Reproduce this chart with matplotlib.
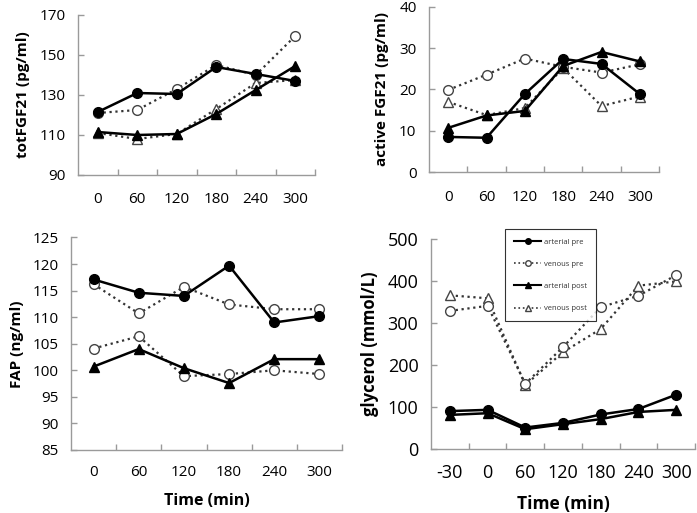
import matplotlib
matplotlib.use("Agg")
import matplotlib.pyplot as plt
from matplotlib.lines import Line2D

plt.rcParams['font.family'] = ['Open Sans', 'DejaVu Sans']

# ---- data ----
cats6 = ["0", "60", "120", "180", "240", "300"]
cats7 = ["-30", "0", "60", "120", "180", "240", "300"]

tot_art_pre = [121.5, 131.0, 130.5, 144.0, 140.5, 137.0]
tot_ven_pre = [121.0, 122.5, 133.0, 145.0, 140.0, 159.5]
tot_art_post = [111.5, 110.0, 110.5, 120.5, 132.5, 144.5]
tot_ven_post = [111.0, 108.0, 110.5, 123.0, 136.0, 137.5]

act_art_pre = [8.5, 8.3, 18.9, 27.4, 26.2, 18.9]
act_ven_pre = [19.9, 23.6, 27.5, 25.5, 24.1, 26.1]
act_art_post = [10.7, 13.7, 14.8, 25.7, 29.1, 26.8]
act_ven_post = [17.0, 13.8, 15.5, 25.2, 16.0, 18.3]

fap_art_pre = [117.1, 114.6, 114.0, 119.7, 109.0, 110.2]
fap_ven_pre = [116.2, 110.7, 115.7, 112.4, 111.5, 111.5]
fap_art_post = [100.7, 104.0, 100.4, 97.6, 102.1, 102.1]
fap_ven_post = [104.1, 106.4, 98.9, 99.3, 100.0, 99.3]

gly_art_pre = [90, 93, 51, 62, 82, 95, 129]
gly_ven_pre = [328, 340, 155, 242, 337, 364, 413]
gly_art_post = [81, 85, 47, 59, 71, 88, 93]
gly_ven_post = [365, 358, 152, 230, 285, 388, 398]

legend_labels = ["arterial pre", "venous pre", "arterial post", "venous post"]

AX_COL = "#9a9a9a"

fig = plt.figure(figsize=(6.97, 5.13), dpi=100)


def style_axes(ax, cats, ylim, yticks, fs=11, xpad=11):
    n = len(cats)
    x = list(range(n))
    ax.set_xlim(-0.5, n - 0.5)
    ax.set_ylim(*ylim)
    ax.set_yticks(yticks)
    ax.set_xticks(x)
    ax.set_xticklabels(cats)
    ax.set_xticks([i - 0.5 for i in range(1, n + 1)], minor=True)
    ax.tick_params(axis='x', which='major', length=0, pad=xpad, labelsize=fs)
    ax.tick_params(axis='x', which='minor', length=4, direction='in', color=AX_COL, width=1)
    ax.tick_params(axis='y', which='major', length=4, direction='in', color=AX_COL, width=1,
                   labelsize=fs, pad=9)
    for s in ['top', 'right']:
        ax.spines[s].set_visible(False)
    for s in ['left', 'bottom']:
        ax.spines[s].set_color(AX_COL)
        ax.spines[s].set_linewidth(1.0)
    return x


def plot_series(ax, x, ap, vp, apo, vpo, vpo_marker='^'):
    ms = 7
    ax.plot(x, vpo, linestyle=':', color='#333333', lw=1.6, marker=vpo_marker, ms=ms,
            mfc='white', mec='#444444', mew=1.0, zorder=2)
    ax.plot(x, vp, linestyle=':', color='#333333', lw=1.6, marker='o', ms=ms,
            mfc='white', mec='#444444', mew=1.0, zorder=2)
    ax.plot(x, apo, linestyle='-', color='black', lw=1.8, marker='^', ms=ms,
            mfc='black', mec='black', zorder=3)
    ax.plot(x, ap, linestyle='-', color='black', lw=1.8, marker='o', ms=ms,
            mfc='black', mec='black', zorder=3)


# Panel 1: totFGF21
ax1 = fig.add_axes([78 / 697, 1 - 175 / 513, 237 / 697, 160 / 513])
x = style_axes(ax1, cats6, (90, 170), [90, 110, 130, 150, 170], xpad=12)
plot_series(ax1, x, tot_art_pre, tot_ven_pre, tot_art_post, tot_ven_post)
ax1.set_ylabel("totFGF21 (pg/ml)", fontsize=11, fontweight='bold', labelpad=7)

# Panel 2: active FGF21
ax2 = fig.add_axes([429 / 697, 1 - 172 / 513, 230 / 697, 165 / 513])
x = style_axes(ax2, cats6, (0, 40), [0, 10, 20, 30, 40], xpad=13)
plot_series(ax2, x, act_art_pre, act_ven_pre, act_art_post, act_ven_post)
ax2.set_ylabel("active FGF21 (pg/ml)", fontsize=11, fontweight='bold', labelpad=7)

# Panel 3: FAP
ax3 = fig.add_axes([71 / 697, 1 - 450 / 513, 271 / 697, 212.5 / 513])
x = style_axes(ax3, cats6, (85, 125), [85, 90, 95, 100, 105, 110, 115, 120, 125], xpad=11)
plot_series(ax3, x, fap_art_pre, fap_ven_pre, fap_art_post, fap_ven_post, vpo_marker='o')
ax3.set_ylabel("FAP (ng/ml)", fontsize=11, fontweight='bold', labelpad=6)
ax3.set_xlabel("Time (min)", fontsize=11.5, fontweight='bold', labelpad=9)

# Panel 4: glycerol
ax4 = fig.add_axes([431 / 697, 1 - 449 / 513, 264 / 697, 210.5 / 513])
x = style_axes(ax4, cats7, (0, 500), [0, 100, 200, 300, 400, 500], fs=13, xpad=11)
plot_series(ax4, x, gly_art_pre, gly_ven_pre, gly_art_post, gly_ven_post)
ax4.set_ylabel("glycerol (mmol/L)", fontsize=12, fontweight='bold', labelpad=6)
ax4.set_xlabel("Time (min)", fontsize=12.5, fontweight='bold', labelpad=9)

handles = [
    Line2D([], [], color='black', lw=1.5, marker='o', ms=4, mfc='black'),
    Line2D([], [], color='#333333', lw=1.2, ls=':', marker='o', ms=4, mfc='white', mec='#444444'),
    Line2D([], [], color='black', lw=1.5, marker='^', ms=4, mfc='black'),
    Line2D([], [], color='#333333', lw=1.2, ls=':', marker='^', ms=4, mfc='white', mec='#444444'),
]
leg = ax4.legend(handles, legend_labels, loc='upper left',
                 bbox_to_anchor=((505 - 431) / 264, 1 + (238.5 - 229) / 210.5),
                 fontsize=5.5, frameon=True, fancybox=False, edgecolor='black',
                 handlelength=3.5, labelspacing=1.95, borderpad=1.2, handletextpad=0.4,
                 borderaxespad=0)
leg.get_frame().set_linewidth(0.8)
for t in leg.get_texts():
    t.set_color('#333333')

fig.savefig("out.png", dpi=100)
